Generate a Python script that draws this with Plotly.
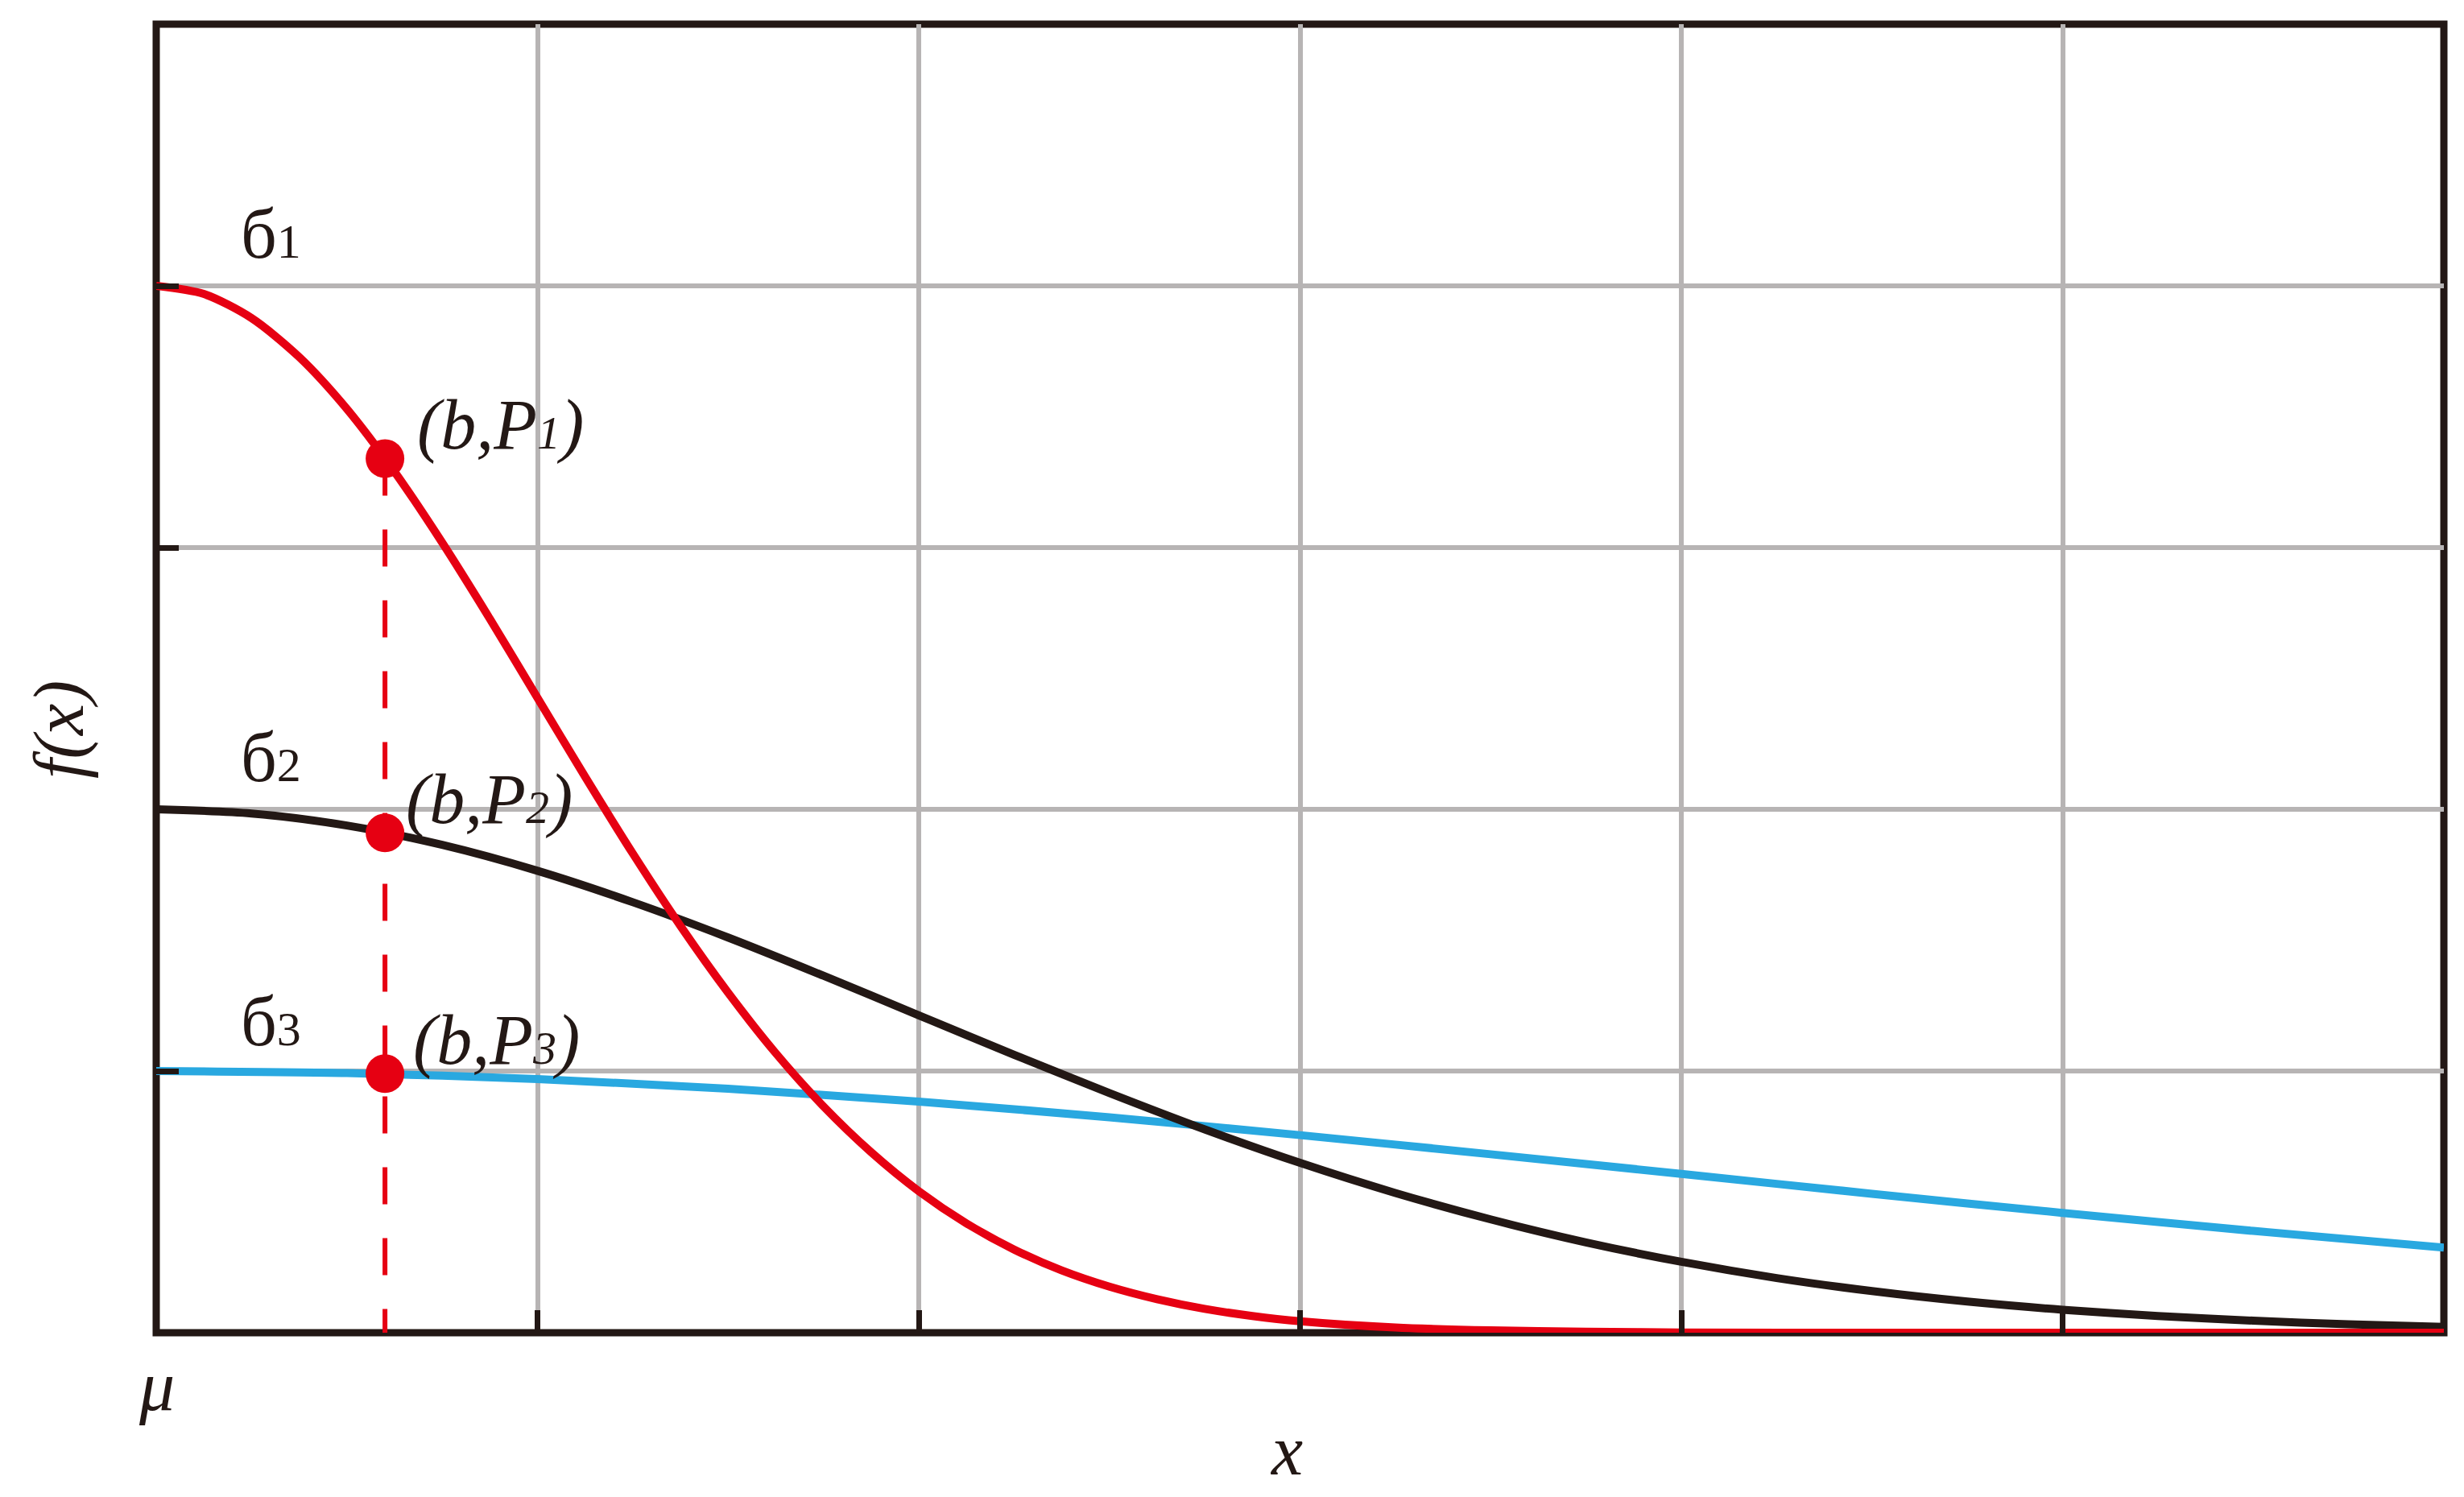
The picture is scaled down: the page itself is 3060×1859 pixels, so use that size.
import plotly.graph_objects as go

# ---- data ----
x_red = [0, 0.125, 0.25, 0.375, 0.5, 0.625, 0.75, 0.875, 1.0, 1.125, 1.25, 1.375,
         1.5, 1.625, 1.75, 1.875, 2.0, 2.125, 2.25, 2.375, 2.5, 2.625, 2.75, 2.875,
         3.0, 3.25, 3.5, 3.75, 4.0, 4.5, 5.0, 5.5, 6.0]
red_y = [4.000, 3.969, 3.877, 3.728, 3.530, 3.290, 3.019, 2.728, 2.426, 2.124,
         1.831, 1.554, 1.299, 1.068, 0.865, 0.690, 0.541, 0.418, 0.318, 0.238,
         0.176, 0.128, 0.091, 0.064, 0.044, 0.020, 0.009, 0.004, 0.001, 0.0,
         0.0, 0.0, 0.0]
x_black = [0, 0.25, 0.5, 0.75, 1.0, 1.25, 1.5, 1.75, 2.0, 2.25, 2.5, 2.75, 3.0,
           3.25, 3.5, 3.75, 4.0, 4.25, 4.5, 4.75, 5.0, 5.25, 5.5, 5.75, 6.0]
black_y = [2.000, 1.984, 1.938, 1.864, 1.765, 1.645, 1.510, 1.364, 1.213, 1.062,
           0.916, 0.777, 0.649, 0.534, 0.433, 0.345, 0.271, 0.209, 0.159, 0.119,
           0.088, 0.064, 0.046, 0.032, 0.022]
x_blue = [0, 0.5, 1.0, 1.5, 2.0, 2.5, 3.0, 3.5, 4.0, 4.5, 5.0, 5.5, 6.0]
blue_y = [1.000, 0.992, 0.969, 0.932, 0.883, 0.823, 0.755, 0.682, 0.607, 0.531,
          0.458, 0.389, 0.325]

b_x = 0.6
P_vals = [3.34, 1.91, 0.99]

sigma_labels = ["б", "б", "б"]
sigma_subs = ["1", "2", "3"]
sigma_label_x = [0.30, 0.30, 0.30]
sigma_label_y = [4.20, 2.20, 1.19]

point_subs = ["1", "2", "3"]
point_label_x = [0.68, 0.65, 0.67]
point_label_y = [3.47, 2.04, 1.12]

x_ticks = [0, 1, 2, 3, 4, 5, 6]
y_ticks = [0, 1, 2, 3, 4, 5]

RED = "#E60012"
BLACK = "#231815"
BLUE = "#29A8E0"
GRID = "#B7B4B4"
FONT = "Liberation Serif"
FS = 88

fig = go.Figure()

fig.add_trace(go.Scatter(x=x_blue, y=blue_y, mode="lines",
                         line=dict(color=BLUE, width=10, shape="spline", smoothing=0.8),
                         hoverinfo="skip", showlegend=False))
fig.add_trace(go.Scatter(x=x_black, y=black_y, mode="lines",
                         line=dict(color=BLACK, width=10, shape="spline", smoothing=0.8),
                         hoverinfo="skip", showlegend=False))
fig.add_trace(go.Scatter(x=x_red, y=red_y, mode="lines",
                         line=dict(color=RED, width=10, shape="spline", smoothing=0.8),
                         hoverinfo="skip", showlegend=False))
# dashed vertical line at x = b
fig.add_trace(go.Scatter(x=[b_x, b_x], y=[P_vals[0], 0], mode="lines",
                         line=dict(color=RED, width=6, dash="46px,42px"),
                         hoverinfo="skip", showlegend=False))
# points (b, P_i)
fig.add_trace(go.Scatter(x=[b_x] * len(P_vals), y=P_vals, mode="markers",
                         marker=dict(color=RED, size=48, line=dict(width=0)),
                         cliponaxis=False, hoverinfo="skip", showlegend=False))

annotations = []
for lab, sub, lx, ly in zip(sigma_labels, sigma_subs, sigma_label_x, sigma_label_y):
    annotations.append(dict(
        x=lx, y=ly, xref="x", yref="y", showarrow=False, xanchor="center", yanchor="middle",
        text=f"{lab}<span style='font-size:60px'>{sub}</span>",
        font=dict(family=FONT, size=FS, color="#231815")))
for sub, lx, ly in zip(point_subs, point_label_x, point_label_y):
    annotations.append(dict(
        x=lx, y=ly, xref="x", yref="y", showarrow=False, xanchor="left", yanchor="middle",
        text=f"<i>(b,P<span style='font-size:58px'>{sub}</span>)</i>",
        font=dict(family=FONT, size=FS, color="#231815")))
# mu under origin
annotations.append(dict(x=0, y=0, xref="x", yref="paper", yshift=-66, showarrow=False,
                        xanchor="center", yanchor="middle", text="<i>μ</i>",
                        font=dict(family=FONT, size=FS, color="#231815")))
# x axis title
annotations.append(dict(x=2.964, y=0, xref="x", yref="paper", yshift=-146, showarrow=False,
                        xanchor="center", yanchor="middle", text="<i>x</i>",
                        font=dict(family=FONT, size=FS, color="#231815")))
# y axis title
annotations.append(dict(x=0, y=0.461, xref="paper", yref="paper", xshift=-120, showarrow=False,
                        xanchor="center", yanchor="middle", textangle=-90, text="<i>f(x)</i>",
                        font=dict(family=FONT, size=FS, color="#231815")))

# frame around the plotting area (centred on the data edges)
shapes = [dict(type="rect", xref="paper", yref="paper", x0=0, x1=1, y0=0, y1=1,
               line=dict(color=BLACK, width=9), fillcolor="rgba(0,0,0,0)", layer="between")]

fig.update_layout(
    width=3060, height=1859,
    margin=dict(l=186, r=33, t=22, b=212),
    paper_bgcolor="white", plot_bgcolor="white",
    annotations=annotations,
    shapes=shapes,
    xaxis=dict(range=[0, 6], tickvals=x_ticks, showticklabels=False,
               showgrid=True, gridcolor=GRID, gridwidth=6,
               zeroline=False, showline=False,
               ticks="inside", ticklen=28, tickwidth=7, tickcolor=BLACK),
    yaxis=dict(range=[0, 5], tickvals=y_ticks, showticklabels=False,
               showgrid=True, gridcolor=GRID, gridwidth=6,
               zeroline=False, showline=False,
               ticks="inside", ticklen=28, tickwidth=7, tickcolor=BLACK),
)

fig.write_html("out.html")
